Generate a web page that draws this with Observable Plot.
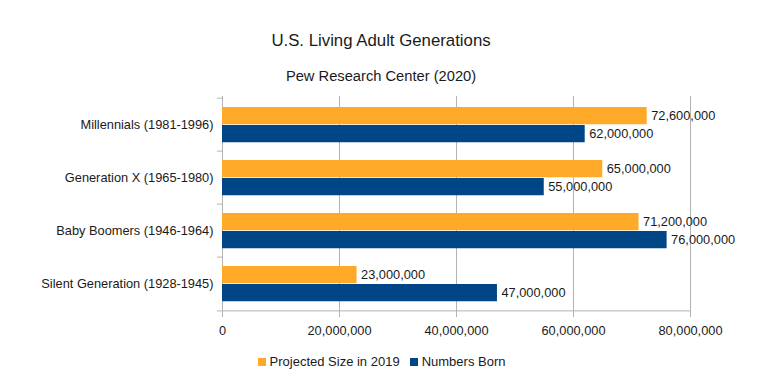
<!DOCTYPE html>
<html>
<head>
<meta charset="utf-8">
<script src="https://cdn.jsdelivr.net/npm/d3@7"></script>
<script src="https://cdn.jsdelivr.net/npm/@observablehq/plot@0.6"></script>
<style>
  body { margin: 0; background: #fff; }
  #wrap { position: relative; width: 776px; height: 377px; overflow: hidden; background: #fff;
          font-family: "Liberation Sans", Arial, sans-serif; color: #1a1a1a; }
  .title { position: absolute; left: 0; width: 762px; text-align: center; top: 31px;
           font-size: 16.8px; line-height: 20px; }
  .sub { position: absolute; left: 0; width: 762px; text-align: center; top: 67px;
         font-size: 14.7px; line-height: 18px; }
  #chart { position: absolute; left: 0; top: 88px; }
  .legend { position: absolute; left: 0; width: 763px; top: 353.5px; display: flex;
            justify-content: center; align-items: center; font-size: 13px; line-height: 16px; }
  .legend .sw { width: 8px; height: 8px; margin-right: 4px; }
  .legend .item { display: flex; align-items: center; margin: 0 5px; }
  #chart svg [aria-label="x-axis tick"] { stroke: #b3b3b3; }
</style>
</head>
<body>
<div id="wrap">
  <div class="title" id="title"></div>
  <div class="sub" id="sub"></div>
  <div id="chart"></div>
  <div class="legend" id="legend"></div>
</div>
<script>
const titleText = "U.S. Living Adult Generations";
const subtitleText = "Pew Research Center (2020)";
const categories = [
  "Millennials (1981-1996)",
  "Generation X (1965-1980)",
  "Baby Boomers (1946-1964)",
  "Silent Generation (1928-1945)"
];
const seriesNames = ["Projected Size in 2019", "Numbers Born"];
const projected = [72600000, 65000000, 71200000, 23000000];
const born = [62000000, 55000000, 76000000, 47000000];
const xTicks = [0, 20000000, 40000000, 60000000, 80000000];
const colors = ["#ffa929", "#004586"];

const rows = categories.flatMap((c, i) => [
  {category: c, series: seriesNames[0], value: projected[i]},
  {category: c, series: seriesNames[1], value: born[i]}
]);
const rowsP = rows.filter(d => d.series === seriesNames[0]);
const rowsB = rows.filter(d => d.series === seriesNames[1]);
const fmt = d3.format(",");

const grid = "#b3b3b3";
const ink = "#1a1a1a";
const bandH = 215 / 4;

const plot = Plot.plot({
  width: 776,
  height: 252,
  marginTop: 8,
  marginBottom: 29,
  marginLeft: 222,
  marginRight: 86,
  style: {fontFamily: '"Liberation Sans", Arial, sans-serif', fontSize: "12.8px", color: ink, background: "transparent"},
  x: {domain: [0, 80000000], ticks: xTicks},
  y: {domain: categories, padding: 0},
  marks: [
    Plot.gridX(xTicks, {stroke: grid, strokeOpacity: 1}),
    Plot.ruleY(categories, {y: d => d, dy: -bandH / 2, stroke: grid, insetLeft: -5, insetRight: 468}),
    Plot.ruleY([categories[categories.length - 1]], {y: d => d, dy: bandH / 2, stroke: grid, insetLeft: -5}),
    Plot.barX(rowsP, {x: "value", y: "category", fill: colors[0], insetTop: 9, insetBottom: bandH - 27}),
    Plot.barX(rowsB, {x: "value", y: "category", fill: colors[1], insetTop: 27, insetBottom: bandH - 45}),
    Plot.text(rowsP, {x: "value", y: "category", text: d => fmt(d.value), textAnchor: "start", dx: 4, dy: -bandH / 2 + 18, fill: ink}),
    Plot.text(rowsB, {x: "value", y: "category", text: d => fmt(d.value), textAnchor: "start", dx: 4, dy: -bandH / 2 + 36, fill: ink}),
    Plot.axisX(xTicks, {tickSize: 6, tickPadding: 8, tickFormat: fmt, stroke: grid, fill: ink, label: null}),
    Plot.axisY({tickSize: 0, tickPadding: 9, fill: ink, label: null})
  ]
});
document.getElementById("chart").appendChild(plot);
document.getElementById("title").textContent = titleText;
document.getElementById("sub").textContent = subtitleText;
const leg = document.getElementById("legend");
seriesNames.forEach((s, i) => {
  const item = document.createElement("div");
  item.className = "item";
  const sw = document.createElement("div");
  sw.className = "sw";
  sw.style.background = colors[i];
  const t = document.createElement("span");
  t.textContent = s;
  item.appendChild(sw);
  item.appendChild(t);
  leg.appendChild(item);
});
</script>
</body>
</html>
